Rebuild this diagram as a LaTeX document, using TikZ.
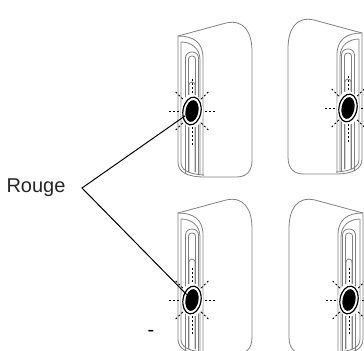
\documentclass[tikz,border=0pt]{standalone}
\usepackage{fontspec}
\setmainfont{Liberation Sans}
\usetikzlibrary{shapes.geometric}
\definecolor{trait}{gray}{0.5}
\tikzset{
  boitier/.style={draw=trait, line width=0.4pt},
  rayon/.style={draw=black, line width=0.45pt, dash pattern=on 1pt off 1pt},
  anneau/.style={ellipse, draw=black, line width=0.6pt, fill=white, minimum width=9pt, minimum height=14pt, inner sep=0pt, rotate=-10},
  diode/.style={ellipse, fill=black, minimum width=6.5pt, minimum height=11pt, inner sep=0pt, rotate=-10}
}
\newcommand{\capteur}[5]{%
\begin{scope}[shift={(#1,#2)}, xscale=#3]
\filldraw[boitier, fill=white] (0,0) -- (48,-13) .. controls (66,-17) and (74,-4) .. (74,16) -- (74,124) .. controls (74,136) and (68,141) .. (58,141) -- (27,141) .. controls (9,141) and (0,136) .. (0,126) -- cycle;
\draw[boitier] (3,6) -- (3,126) .. controls (3,134) and (10,138) .. (26,139);
\draw[boitier] (0,0) .. controls (15,0) and (25,6) .. (25,22) -- (25,140);
\draw[boitier] (3,6) .. controls (13,6) and (22,12) .. (22,24) -- (22,138);
\draw[boitier, rounded corners=3pt] (7.5,138) -- (7.5,16) -- (20.5,16) -- (20.5,138);
\draw[boitier, rounded corners=1.5pt] (10.5,136) -- (10.5,20) -- (17.5,20) -- (17.5,136);
\draw[boitier, rounded corners=1.5pt] (11,136) -- (11,46) -- (17,46) -- (17,136);
\fill[white] (14,#4) ellipse (11 and 17);
\draw[rayon] (14,#4-32) -- (14,#4-16) (14,#4+16) -- (14,#4+34);
\foreach \a in {0,45,135,180,225,315}
  \draw[rayon, shift={(14,#4)}] (\a:13 and 17) -- (\a:23 and 27);
\node[anneau] at (14,#4) {};
\node[diode] (#5) at (14,#4) {};
\end{scope}}

\begin{document}
\begin{tikzpicture}[x=0.5pt, y=-0.5pt]
\useasboundingbox (0,0) rectangle (364,350);
\clip (0,0) rectangle (364,350);
\capteur{178}{36}{1}{75}{ledA}
\capteur{362}{33}{-1}{75}{ledB}
\capteur{178}{213}{1}{87}{ledC}
\capteur{363}{213}{-1}{87}{ledD}
\node[text=black!85, font=\fontsize{10}{12}\selectfont] (rouge) at (36,188) {Rouge};
\coordinate (pointe) at (82,188);
\draw[line width=0.5pt] (ledA) -- (pointe) -- (ledC);
\node[font=\fontsize{10}{12}\selectfont] (tiret) at (151,333) {-};
\end{tikzpicture}
\end{document}
